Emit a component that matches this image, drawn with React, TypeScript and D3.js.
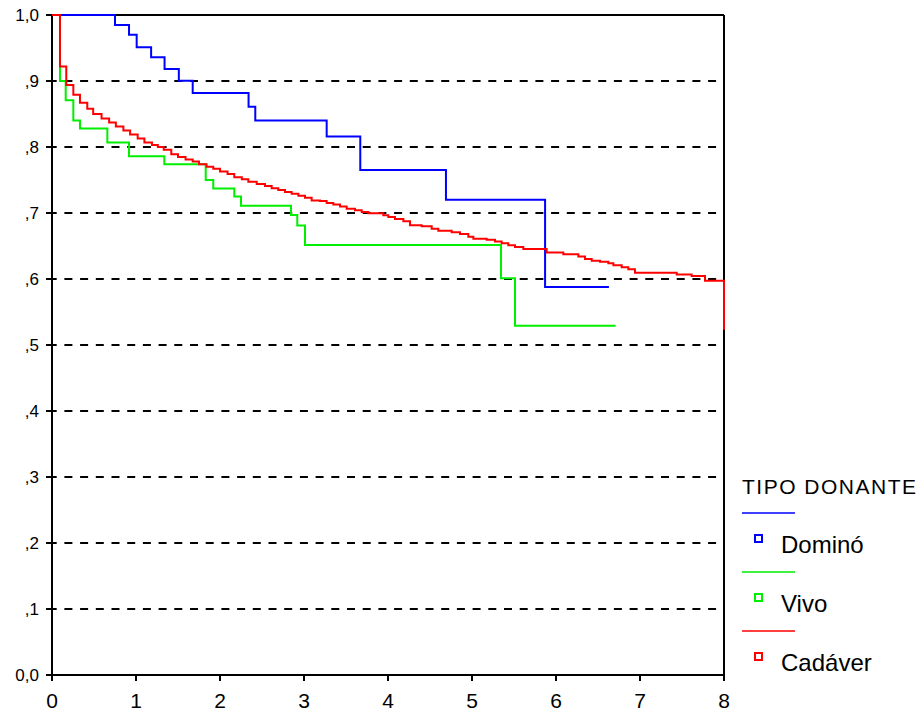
import React from "react";
import * as d3 from "d3";

const xTicks = [0, 1, 2, 3, 4, 5, 6, 7, 8];
const yTicks = [0, 0.1, 0.2, 0.3, 0.4, 0.5, 0.6, 0.7, 0.8, 0.9, 1.0];
const yTickLabels = ["0,0", ",1", ",2", ",3", ",4", ",5", ",6", ",7", ",8", ",9", "1,0"];

const legendTitle = "TIPO DONANTE";
const seriesNames = ["Dominó", "Vivo", "Cadáver"];
const seriesColors = ["#0000ff", "#00ee00", "#ff0000"];

const dominoTimes = [0, 0.75, 0.917, 1.008, 1.18, 1.34, 1.51, 1.675, 2.34, 2.42, 3.27, 3.67, 4.69, 5.87, 6.63];
const dominoSurv = [1, 0.985, 0.97, 0.951, 0.936, 0.918, 0.9005, 0.882, 0.861, 0.84, 0.816, 0.765, 0.72, 0.588, 0.588];

const vivoTimes = [0, 0.095, 0.163, 0.254, 0.333, 0.659, 0.917, 1.337, 1.83, 1.92, 2.17, 2.25, 2.845, 2.92, 3.012, 5.345, 5.512, 6.71];
const vivoSurv = [1, 0.9, 0.871, 0.84, 0.828, 0.807, 0.786, 0.774, 0.75, 0.737, 0.725, 0.711, 0.697, 0.681, 0.6515, 0.601, 0.529, 0.529];

const cadaverTimes = [0, 0.095, 0.17, 0.254, 0.333, 0.42, 0.49, 0.59, 0.68, 0.76, 0.85, 0.93, 1.02, 1.1, 1.19, 1.26, 1.33, 1.42, 1.5, 1.59, 1.675, 1.75, 1.84, 1.92, 2.0, 2.09, 2.17, 2.26, 2.337, 2.437, 2.536, 2.615, 2.694, 2.774, 2.853, 2.933, 3.012, 3.091, 3.19, 3.27, 3.349, 3.429, 3.508, 3.607, 3.687, 3.766, 3.944, 4.004, 4.083, 4.183, 4.262, 4.401, 4.52, 4.599, 4.758, 4.857, 4.956, 5.016, 5.175, 5.274, 5.353, 5.432, 5.512, 5.611, 5.889, 6.087, 6.266, 6.345, 6.425, 6.524, 6.623, 6.683, 6.782, 6.861, 6.94, 7.437, 7.615, 7.774, 8.0];
const cadaverSurv = [1, 0.922, 0.894, 0.879, 0.867, 0.858, 0.85, 0.843, 0.837, 0.831, 0.825, 0.819, 0.813, 0.807, 0.803, 0.8, 0.796, 0.789, 0.785, 0.781, 0.778, 0.774, 0.77, 0.767, 0.763, 0.759, 0.754, 0.751, 0.7475, 0.744, 0.741, 0.7374, 0.735, 0.732, 0.729, 0.726, 0.723, 0.719, 0.718, 0.715, 0.713, 0.71, 0.7066, 0.704, 0.7015, 0.6995, 0.6965, 0.694, 0.691, 0.6874, 0.6813, 0.68, 0.676, 0.673, 0.671, 0.668, 0.664, 0.661, 0.6596, 0.657, 0.654, 0.651, 0.6485, 0.6455, 0.64, 0.6374, 0.634, 0.6303, 0.6278, 0.6263, 0.6237, 0.621, 0.6177, 0.6146, 0.6096, 0.607, 0.6045, 0.5975, 0.523];

const W = 921;
const H = 713;
const FONT = "'Liberation Sans', Arial, sans-serif";

export default function App() {
  const x = d3.scaleLinear().domain([0, 8]).range([52, 724]);
  const y = d3.scaleLinear().domain([0, 1]).range([675, 15]);

  const line = d3
    .line<[number, number]>()
    .x((d) => x(d[0]))
    .y((d) => y(d[1]))
    .curve(d3.curveStepAfter);

  const series = [
    { times: dominoTimes, surv: dominoSurv },
    { times: vivoTimes, surv: vivoSurv },
    { times: cadaverTimes, surv: cadaverSurv },
  ];

  return (
    <svg
      width={W}
      height={H}
      style={{ position: "absolute", left: 0, top: 0, background: "#fff" }}
      fontFamily={FONT}
    >
      {/* grid lines */}
      {yTicks
        .filter((v) => v > 0 && v < 1)
        .map((v) => (
          <line
            key={"g" + v}
            x1={x(0)}
            x2={x(8)}
            y1={y(v)}
            y2={y(v)}
            stroke="#000"
            strokeWidth={1.8}
            strokeDasharray="8,7.7"
            strokeDashoffset={3.3}
          />
        ))}
      {/* frame */}
      <line x1={x(0)} x2={x(8)} y1={y(1)} y2={y(1)} stroke="#000" strokeWidth={2} />
      <line x1={x(8)} x2={x(8)} y1={y(1)} y2={y(0)} stroke="#000" strokeWidth={2} />
      <line x1={x(0)} x2={x(0)} y1={y(1) - 1} y2={y(0) + 1} stroke="#000" strokeWidth={2} />
      <line x1={x(0) - 1} x2={x(8) + 1} y1={y(0)} y2={y(0)} stroke="#000" strokeWidth={2} />
      {/* y ticks */}
      {yTicks.map((v, i) => (
        <g key={"y" + i}>
          <line x1={x(0) - 6} x2={x(0)} y1={y(v)} y2={y(v)} stroke="#000" strokeWidth={2} />
          <text
            x={39}
            y={y(v)}
            textAnchor="end"
            dominantBaseline="central"
            fontSize={17}
            fill="#000"
          >
            {yTickLabels[i]}
          </text>
        </g>
      ))}
      {/* x ticks */}
      {xTicks.map((v) => (
        <g key={"x" + v}>
          <line x1={x(v)} x2={x(v)} y1={y(0)} y2={y(0) + 6} stroke="#000" strokeWidth={2} />
          <text x={x(v)} y={708} textAnchor="middle" fontSize={21} fill="#000">
            {v}
          </text>
        </g>
      ))}
      {/* curves */}
      {series.map((s, i) => (
        <path
          key={"s" + i}
          d={line(s.times.map((t, j) => [t, s.surv[j]] as [number, number])) || ""}
          fill="none"
          stroke={seriesColors[i]}
          strokeWidth={2}
        />
      ))}
      {/* legend */}
      <text x={742} y={494} fontSize={21} letterSpacing={1.5} fill="#000">
        {legendTitle}
      </text>
      {seriesNames.map((name, i) => {
        const base = 513 + i * 59;
        return (
          <g key={"l" + i}>
            <line x1={742} x2={795} y1={base} y2={base} stroke={seriesColors[i]} strokeWidth={1.5} />
            <rect
              x={755}
              y={base + 22}
              width={7}
              height={7}
              fill="none"
              stroke={seriesColors[i]}
              strokeWidth={2}
            />
            <text x={781} y={base + 40} fontSize={24} fill="#000">
              {name}
            </text>
          </g>
        );
      })}
    </svg>
  );
}
